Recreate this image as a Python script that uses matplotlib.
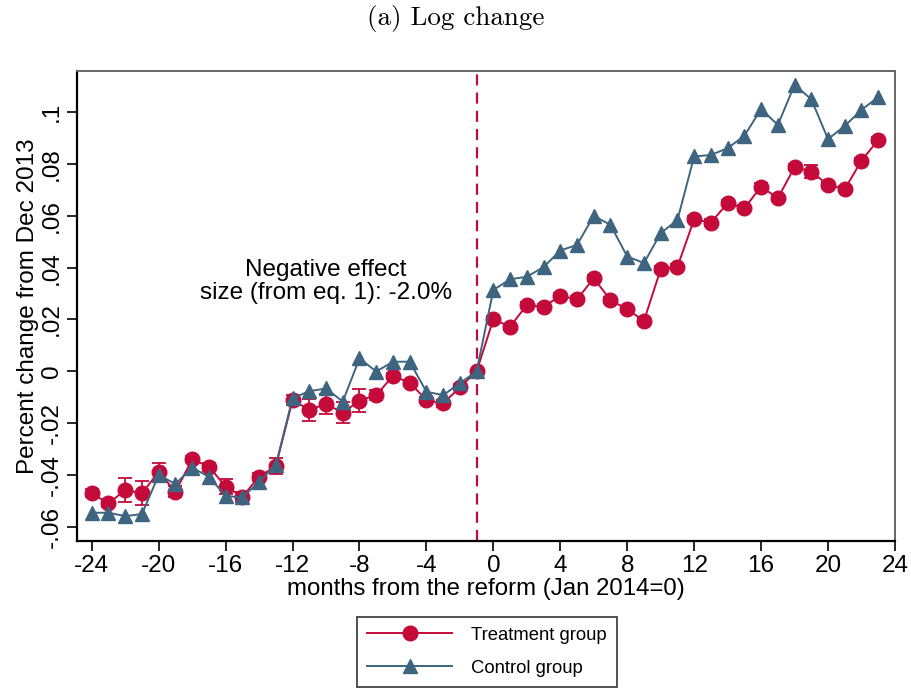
import matplotlib
matplotlib.use("Agg")
import matplotlib.pyplot as plt
from matplotlib.lines import Line2D

# Months relative to the reform (Jan 2014 = 0)
months = list(range(-24, 24))

# Log change from Dec 2013, treatment group
treatment = [-0.0471, -0.0510, -0.0458, -0.0471, -0.0388, -0.0465, -0.0340, -0.0368,
             -0.0445, -0.0484, -0.0407, -0.0366, -0.0111, -0.0149, -0.0126, -0.0160,
             -0.0113, -0.0092, -0.0018, -0.0044, -0.0111, -0.0124, -0.0062, 0.0000,
             0.0201, 0.0172, 0.0256, 0.0249, 0.0291, 0.0278, 0.0359, 0.0275,
             0.0239, 0.0195, 0.0394, 0.0403, 0.0587, 0.0574, 0.0649, 0.0629,
             0.0713, 0.0668, 0.0788, 0.0771, 0.0719, 0.0703, 0.0813, 0.0893]

# Half-width of the confidence interval, treatment group
treatment_ci = [0.0015, 0.0015, 0.0045, 0.0046, 0.0035, 0.0022, 0.0012, 0.0015,
                0.0028, 0.0020, 0.0016, 0.0030, 0.0020, 0.0041, 0.0040, 0.0040,
                0.0046, 0.0018, 0.0012, 0.0012, 0.0012, 0.0012, 0.0012, 0.0000,
                0.0012, 0.0012, 0.0012, 0.0012, 0.0012, 0.0012, 0.0012, 0.0012,
                0.0012, 0.0012, 0.0012, 0.0012, 0.0012, 0.0012, 0.0012, 0.0012,
                0.0012, 0.0012, 0.0012, 0.0024, 0.0012, 0.0012, 0.0012, 0.0012]

# Log change from Dec 2013, control group
control = [-0.0546, -0.0546, -0.0559, -0.0551, -0.0400, -0.0435, -0.0372, -0.0407,
           -0.0481, -0.0487, -0.0426, -0.0362, -0.0104, -0.0077, -0.0066, -0.0117,
           0.0050, -0.0001, 0.0037, 0.0037, -0.0079, -0.0092, -0.0046, 0.0000,
           0.0314, 0.0355, 0.0365, 0.0402, 0.0466, 0.0488, 0.0600, 0.0565,
           0.0443, 0.0418, 0.0533, 0.0584, 0.0829, 0.0835, 0.0861, 0.0909,
           0.1012, 0.0951, 0.1105, 0.1050, 0.0896, 0.0947, 0.1009, 0.1058]

x_ticks = list(range(-24, 25, 4))
y_ticks = [-0.06, -0.04, -0.02, 0.0, 0.02, 0.04, 0.06, 0.08, 0.10]
y_ticklabels = ["-.06", "-.04", "-.02", "0", ".02", ".04", ".06", ".08", ".1"]

reform_line = -1
note = "Negative effect\nsize (from eq. 1): -2.0%"

red = "#C40A3B"
blue = "#3E6580"

plt.rcParams["font.family"] = ["Liberation Sans", "DejaVu Sans"]

fig = plt.figure(figsize=(9.11, 6.96), dpi=100)
ax = fig.add_axes([0.0842, 0.2227, 0.8982, 0.6753])

ax.axvline(reform_line, color=red, lw=1.6, dashes=(5, 3.2), zorder=1)

ax.errorbar(months, treatment, yerr=treatment_ci, color=red, lw=1.4,
            marker="o", ms=10.5, mec=red, mfc=red, capsize=5, capthick=1.3,
            elinewidth=1.3, zorder=3)
ax.plot(months, control, color=blue, lw=1.4, marker="^", ms=10.5,
        mec=blue, mfc=blue, zorder=4)

ax.set_xlim(-24.9, 23.94)
ax.set_ylim(-0.0655, 0.1159)
ax.set_xticks(x_ticks)
ax.set_xticklabels([str(t) for t in x_ticks])
ax.set_yticks(y_ticks)
ax.set_yticklabels(y_ticklabels, rotation=90, va="center")
ax.tick_params(axis="both", direction="out", length=7, width=1.2,
               labelsize=17.5, color="black")
ax.tick_params(axis="y", pad=3)
ax.tick_params(axis="x", pad=3)

for side in ("left", "bottom"):
    ax.spines[side].set_color("black")
    ax.spines[side].set_linewidth(1.6)
for side in ("top", "right"):
    ax.spines[side].set_color("#666666")
    ax.spines[side].set_linewidth(1.4)

ax.set_xlabel("months from the reform (Jan 2014=0)", fontsize=17.3, labelpad=1)
ax.set_ylabel("Percent change from Dec 2013", fontsize=17.5, labelpad=1)

ax.text(-10, 0.0345, note, ha="center", va="center", fontsize=17.5,
        multialignment="center", linespacing=1.05)

fig.text(0.5, 0.974, "(a) Log change", ha="center", va="center",
         fontsize=19.5, family="cmr10")

handles = [
    Line2D([], [], color=red, lw=1.4, marker="o", ms=10.5, mfc=red, mec=red),
    Line2D([], [], color=blue, lw=1.4, marker="^", ms=10.5, mfc=blue, mec=blue),
]
leg = fig.legend(handles, ["Treatment group", "Control group"],
                 loc="upper center", bbox_to_anchor=(0.5345, 0.114),
                 fontsize=13.3, frameon=True, fancybox=False, handlelength=4.6,
                 handletextpad=1.0, borderpad=0.55, labelspacing=0.85,
                 borderaxespad=0)
leg.get_frame().set_edgecolor("black")
leg.get_frame().set_linewidth(1.2)

fig.savefig("out.png", dpi=100, facecolor="white")
